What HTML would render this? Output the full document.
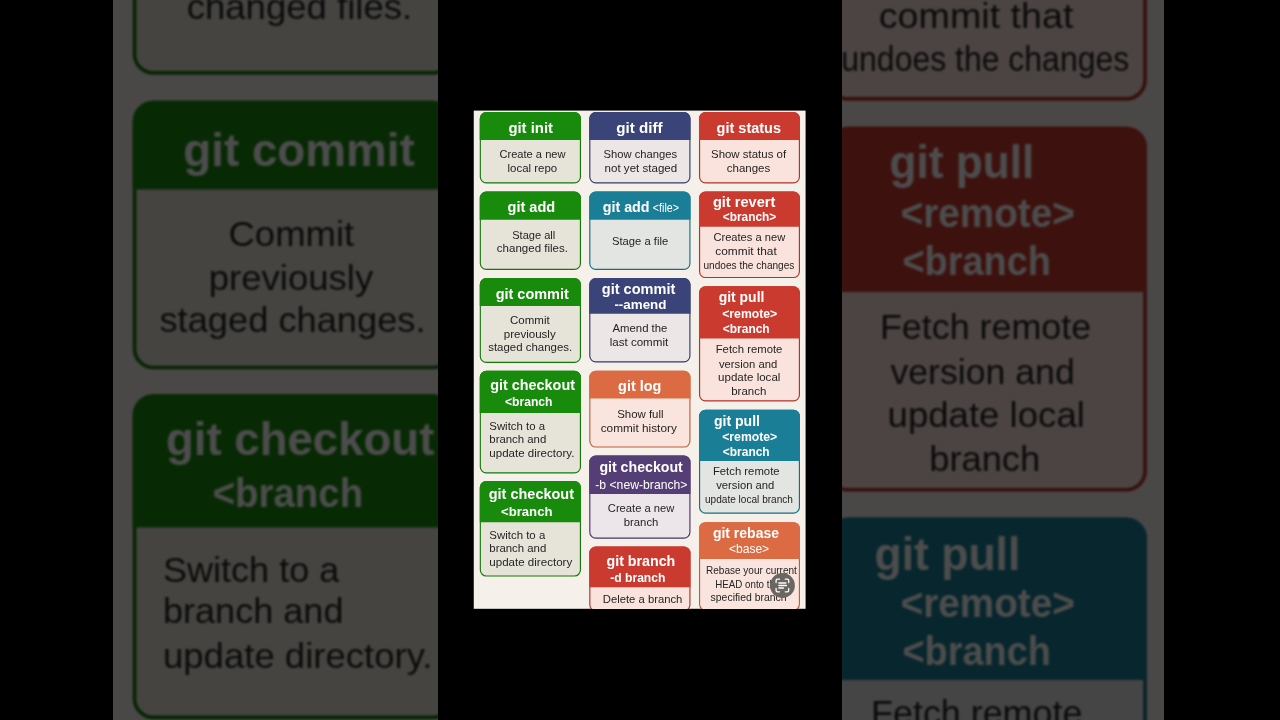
<!DOCTYPE html>
<html><head><meta charset="utf-8"><title>git cheatsheet</title>
<style>
html,body{margin:0;padding:0;background:#000;}
body{width:1280px;height:720px;overflow:hidden;position:relative;font-family:"Liberation Sans",sans-serif;}
svg{position:absolute;display:block;overflow:hidden;}
svg text{font-family:"Liberation Sans",sans-serif;white-space:pre;}
.bgwrap{position:absolute;left:113.4px;top:0;width:1050.7px;height:720px;overflow:hidden;}
.bg{left:-8.66px;top:-437.73px;filter:blur(0.9px) brightness(0.3);}
.strip{position:absolute;left:437.9px;top:0;width:404px;height:720px;background:#000;}
.fg{left:473.0px;top:110.0px;will-change:transform;}
</style></head><body>
<div class="bgwrap"><svg class="bg" width="1069.18" height="1595.53" viewBox="-3 -3 337.6 503.79999999999995"><rect x="-3" y="-3" width="337.6" height="503.79999999999995" fill="#f5f0e9"/><rect x="-0.25" y="-0.40" width="331.85" height="498.20" fill="#f5f0e9"/>
<rect x="6.33" y="1.67" width="100.10" height="70.25" rx="5.925" fill="#e6e3d9" stroke="#15790a" stroke-width="1.15"/>
<path d="M5.75 29.10V7.60A6.5 6.5 0 0 1 12.25 1.10H100.50A6.5 6.5 0 0 1 107.00 7.60V29.10Z" fill="#188a0c"/>
<text x="34.40" y="22.10" font-size="14.8" font-weight="700" fill="#fff" textLength="44.60" lengthAdjust="spacingAndGlyphs">git init</text>
<text x="25.40" y="47.40" font-size="11.2" font-weight="400" fill="#242424" textLength="66.16" lengthAdjust="spacingAndGlyphs">Create a new</text>
<text x="33.50" y="60.90" font-size="11.2" font-weight="400" fill="#242424" textLength="49.70" lengthAdjust="spacingAndGlyphs">local repo</text>
<rect x="6.33" y="81.17" width="100.10" height="77.15" rx="5.925" fill="#e6e3d9" stroke="#15790a" stroke-width="1.15"/>
<path d="M5.75 108.75V87.10A6.5 6.5 0 0 1 12.25 80.60H100.50A6.5 6.5 0 0 1 107.00 87.10V108.75Z" fill="#188a0c"/>
<text x="33.50" y="101.40" font-size="14.8" font-weight="700" fill="#fff" textLength="47.81" lengthAdjust="spacingAndGlyphs">git add</text>
<text x="38.20" y="127.75" font-size="11.2" font-weight="400" fill="#242424" textLength="43.10" lengthAdjust="spacingAndGlyphs">Stage all</text>
<text x="22.80" y="141.40" font-size="11.2" font-weight="400" fill="#242424" textLength="71.20" lengthAdjust="spacingAndGlyphs">changed files.</text>
<rect x="6.33" y="167.68" width="100.10" height="83.65" rx="5.925" fill="#e6e3d9" stroke="#15790a" stroke-width="1.15"/>
<path d="M5.75 195.10V173.60A6.5 6.5 0 0 1 12.25 167.10H100.50A6.5 6.5 0 0 1 107.00 173.60V195.10Z" fill="#188a0c"/>
<text x="21.70" y="187.75" font-size="14.8" font-weight="700" fill="#fff" textLength="73.10" lengthAdjust="spacingAndGlyphs">git commit</text>
<text x="36.00" y="213.00" font-size="11.2" font-weight="400" fill="#242424" textLength="39.70" lengthAdjust="spacingAndGlyphs">Commit</text>
<text x="29.75" y="226.75" font-size="11.2" font-weight="400" fill="#242424" textLength="51.95" lengthAdjust="spacingAndGlyphs">previously</text>
<text x="14.20" y="240.25" font-size="11.2" font-weight="400" fill="#242424" textLength="84.00" lengthAdjust="spacingAndGlyphs">staged changes.</text>
<rect x="6.33" y="260.38" width="100.10" height="101.45" rx="5.925" fill="#e6e3d9" stroke="#15790a" stroke-width="1.15"/>
<path d="M5.75 301.90V266.30A6.5 6.5 0 0 1 12.25 259.80H100.50A6.5 6.5 0 0 1 107.00 266.30V301.90Z" fill="#188a0c"/>
<text x="16.25" y="279.00" font-size="14.8" font-weight="700" fill="#fff" textLength="84.75" lengthAdjust="spacingAndGlyphs">git checkout</text>
<text x="31.00" y="295.50" font-size="13.0" font-weight="700" fill="#fff" textLength="47.50" lengthAdjust="spacingAndGlyphs">&lt;branch</text>
<text x="15.30" y="319.10" font-size="11.2" font-weight="400" fill="#242424" textLength="55.69" lengthAdjust="spacingAndGlyphs">Switch to a</text>
<text x="15.30" y="332.00" font-size="11.2" font-weight="400" fill="#242424" textLength="57.00" lengthAdjust="spacingAndGlyphs">branch and</text>
<text x="15.30" y="346.10" font-size="11.2" font-weight="400" fill="#242424" textLength="85.09" lengthAdjust="spacingAndGlyphs">update directory.</text>
<rect x="6.33" y="370.57" width="100.10" height="94.45" rx="5.925" fill="#e6e3d9" stroke="#15790a" stroke-width="1.15"/>
<path d="M5.75 411.20V376.50A6.5 6.5 0 0 1 12.25 370.00H100.50A6.5 6.5 0 0 1 107.00 376.50V411.20Z" fill="#188a0c"/>
<text x="14.75" y="388.30" font-size="14.8" font-weight="700" fill="#fff" textLength="85.25" lengthAdjust="spacingAndGlyphs">git checkout</text>
<text x="27.00" y="404.60" font-size="13.6" font-weight="700" fill="#fff" textLength="51.50" lengthAdjust="spacingAndGlyphs">&lt;branch</text>
<text x="15.30" y="428.10" font-size="11.2" font-weight="400" fill="#242424" textLength="55.99" lengthAdjust="spacingAndGlyphs">Switch to a</text>
<text x="15.30" y="440.80" font-size="11.2" font-weight="400" fill="#242424" textLength="57.00" lengthAdjust="spacingAndGlyphs">branch and</text>
<text x="15.30" y="454.70" font-size="11.2" font-weight="400" fill="#242424" textLength="82.90" lengthAdjust="spacingAndGlyphs">update directory</text>
<rect x="115.83" y="1.67" width="100.10" height="70.25" rx="5.925" fill="#ece7e6" stroke="#333b69" stroke-width="1.15"/>
<path d="M115.25 29.10V7.60A6.5 6.5 0 0 1 121.75 1.10H210.00A6.5 6.5 0 0 1 216.50 7.60V29.10Z" fill="#3a4478"/>
<text x="142.25" y="22.10" font-size="14.8" font-weight="700" fill="#fff" textLength="46.32" lengthAdjust="spacingAndGlyphs">git diff</text>
<text x="129.50" y="47.40" font-size="11.2" font-weight="400" fill="#242424" textLength="73.70" lengthAdjust="spacingAndGlyphs">Show changes</text>
<text x="130.60" y="60.90" font-size="11.2" font-weight="400" fill="#242424" textLength="72.60" lengthAdjust="spacingAndGlyphs">not yet staged</text>
<rect x="115.83" y="81.17" width="100.10" height="77.15" rx="5.925" fill="#e2e5e1" stroke="#166f84" stroke-width="1.15"/>
<path d="M115.25 108.75V87.10A6.5 6.5 0 0 1 121.75 80.60H210.00A6.5 6.5 0 0 1 216.50 87.10V108.75Z" fill="#1a7f96"/>
<text x="128.75" y="101.40" font-size="14.8" font-weight="700" fill="#fff" textLength="46.86" lengthAdjust="spacingAndGlyphs">git add</text>
<text x="178.80" y="101.40" font-size="12.2" font-weight="400" fill="#fff" textLength="26.20" lengthAdjust="spacingAndGlyphs">&lt;file&gt;</text>
<text x="138.00" y="133.75" font-size="11.2" font-weight="400" fill="#242424" textLength="56.20" lengthAdjust="spacingAndGlyphs">Stage a file</text>
<rect x="115.83" y="167.68" width="100.10" height="83.25" rx="5.925" fill="#ece7e6" stroke="#333b69" stroke-width="1.15"/>
<path d="M115.25 202.75V173.60A6.5 6.5 0 0 1 121.75 167.10H210.00A6.5 6.5 0 0 1 216.50 173.60V202.75Z" fill="#3a4478"/>
<text x="127.80" y="182.70" font-size="14.8" font-weight="700" fill="#fff" textLength="73.50" lengthAdjust="spacingAndGlyphs">git commit</text>
<text x="140.40" y="197.70" font-size="13.0" font-weight="700" fill="#fff" textLength="52.10" lengthAdjust="spacingAndGlyphs">--amend</text>
<text x="138.50" y="221.10" font-size="11.2" font-weight="400" fill="#242424" textLength="54.91" lengthAdjust="spacingAndGlyphs">Amend the</text>
<text x="135.70" y="234.60" font-size="11.2" font-weight="400" fill="#242424" textLength="58.50" lengthAdjust="spacingAndGlyphs">last commit</text>
<rect x="115.83" y="260.38" width="100.10" height="75.65" rx="5.925" fill="#fae5de" stroke="#c15d3a" stroke-width="1.15"/>
<path d="M115.25 287.40V266.30A6.5 6.5 0 0 1 121.75 259.80H210.00A6.5 6.5 0 0 1 216.50 266.30V287.40Z" fill="#dc6a42"/>
<text x="144.10" y="280.00" font-size="14.8" font-weight="700" fill="#fff" textLength="43.15" lengthAdjust="spacingAndGlyphs">git log</text>
<text x="143.20" y="307.10" font-size="11.2" font-weight="400" fill="#242424" textLength="46.30" lengthAdjust="spacingAndGlyphs">Show full</text>
<text x="126.70" y="320.80" font-size="11.2" font-weight="400" fill="#242424" textLength="76.10" lengthAdjust="spacingAndGlyphs">commit history</text>
<rect x="115.83" y="345.18" width="100.10" height="81.95" rx="5.925" fill="#ece6ea" stroke="#4a3566" stroke-width="1.15"/>
<path d="M115.25 383.10V351.10A6.5 6.5 0 0 1 121.75 344.60H210.00A6.5 6.5 0 0 1 216.50 351.10V383.10Z" fill="#553d75"/>
<text x="125.40" y="361.00" font-size="14.8" font-weight="700" fill="#fff" textLength="83.40" lengthAdjust="spacingAndGlyphs">git checkout</text>
<text x="121.25" y="378.10" font-size="12.6" font-weight="400" fill="#fff" textLength="92.25" lengthAdjust="spacingAndGlyphs">-b &lt;new-branch&gt;</text>
<text x="133.80" y="401.20" font-size="11.2" font-weight="400" fill="#242424" textLength="66.56" lengthAdjust="spacingAndGlyphs">Create a new</text>
<text x="149.75" y="414.80" font-size="11.2" font-weight="400" fill="#242424" textLength="34.65" lengthAdjust="spacingAndGlyphs">branch</text>
<rect x="115.83" y="436.18" width="100.10" height="63.45" rx="5.925" fill="#fae3dd" stroke="#b23329" stroke-width="1.15"/>
<path d="M115.25 476.25V442.10A6.5 6.5 0 0 1 121.75 435.60H210.00A6.5 6.5 0 0 1 216.50 442.10V476.25Z" fill="#cb3a2f"/>
<text x="132.50" y="454.70" font-size="14.8" font-weight="700" fill="#fff" textLength="68.79" lengthAdjust="spacingAndGlyphs">git branch</text>
<text x="136.25" y="471.20" font-size="13.0" font-weight="700" fill="#fff" textLength="55.15" lengthAdjust="spacingAndGlyphs">-d branch</text>
<text x="128.75" y="492.40" font-size="11.2" font-weight="400" fill="#242424" textLength="79.65" lengthAdjust="spacingAndGlyphs">Delete a branch</text>
<rect x="225.57" y="1.67" width="99.85" height="70.25" rx="5.925" fill="#fae3dd" stroke="#b23329" stroke-width="1.15"/>
<path d="M225.00 29.10V7.60A6.5 6.5 0 0 1 231.50 1.10H319.50A6.5 6.5 0 0 1 326.00 7.60V29.10Z" fill="#cb3a2f"/>
<text x="242.60" y="22.10" font-size="14.8" font-weight="700" fill="#fff" textLength="64.40" lengthAdjust="spacingAndGlyphs">git status</text>
<text x="237.00" y="47.40" font-size="11.2" font-weight="400" fill="#242424" textLength="75.18" lengthAdjust="spacingAndGlyphs">Show status of</text>
<text x="252.75" y="60.90" font-size="11.2" font-weight="400" fill="#242424" textLength="43.50" lengthAdjust="spacingAndGlyphs">changes</text>
<rect x="225.57" y="81.17" width="99.85" height="85.35" rx="5.925" fill="#fae3dd" stroke="#b23329" stroke-width="1.15"/>
<path d="M225.00 115.70V87.10A6.5 6.5 0 0 1 231.50 80.60H319.50A6.5 6.5 0 0 1 326.00 87.10V115.70Z" fill="#cb3a2f"/>
<text x="238.90" y="96.20" font-size="14.8" font-weight="700" fill="#fff" textLength="62.40" lengthAdjust="spacingAndGlyphs">git revert</text>
<text x="248.80" y="110.25" font-size="12.8" font-weight="700" fill="#fff" textLength="53.45" lengthAdjust="spacingAndGlyphs">&lt;branch&gt;</text>
<text x="239.40" y="130.20" font-size="11.2" font-weight="400" fill="#242424" textLength="71.81" lengthAdjust="spacingAndGlyphs">Creates a new</text>
<text x="241.30" y="144.25" font-size="11.2" font-weight="400" fill="#242424" textLength="61.50" lengthAdjust="spacingAndGlyphs">commit that</text>
<text x="229.50" y="157.75" font-size="11.2" font-weight="400" fill="#242424" textLength="90.90" lengthAdjust="spacingAndGlyphs">undoes the changes</text>
<rect x="225.57" y="175.88" width="99.85" height="114.05" rx="5.925" fill="#fae3dd" stroke="#b23329" stroke-width="1.15"/>
<path d="M225.00 227.50V181.80A6.5 6.5 0 0 1 231.50 175.30H319.50A6.5 6.5 0 0 1 326.00 181.80V227.50Z" fill="#cb3a2f"/>
<text x="244.70" y="191.50" font-size="14.8" font-weight="700" fill="#fff" textLength="45.70" lengthAdjust="spacingAndGlyphs">git pull</text>
<text x="248.25" y="207.00" font-size="12.8" font-weight="700" fill="#fff" textLength="54.96" lengthAdjust="spacingAndGlyphs">&lt;remote&gt;</text>
<text x="248.80" y="222.00" font-size="12.8" font-weight="700" fill="#fff" textLength="46.90" lengthAdjust="spacingAndGlyphs">&lt;branch</text>
<text x="241.70" y="242.50" font-size="11.2" font-weight="400" fill="#242424" textLength="66.70" lengthAdjust="spacingAndGlyphs">Fetch remote</text>
<text x="245.00" y="256.60" font-size="11.2" font-weight="400" fill="#242424" textLength="58.20" lengthAdjust="spacingAndGlyphs">version and</text>
<text x="244.10" y="270.25" font-size="11.2" font-weight="400" fill="#242424" textLength="62.30" lengthAdjust="spacingAndGlyphs">update local</text>
<text x="257.25" y="284.00" font-size="11.2" font-weight="400" fill="#242424" textLength="35.05" lengthAdjust="spacingAndGlyphs">branch</text>
<rect x="225.57" y="299.32" width="99.85" height="102.85" rx="5.925" fill="#e2e5e1" stroke="#166f84" stroke-width="1.15"/>
<path d="M225.00 350.00V305.25A6.5 6.5 0 0 1 231.50 298.75H319.50A6.5 6.5 0 0 1 326.00 305.25V350.00Z" fill="#1a7f96"/>
<text x="240.00" y="315.25" font-size="14.8" font-weight="700" fill="#fff" textLength="46.00" lengthAdjust="spacingAndGlyphs">git pull</text>
<text x="248.25" y="330.25" font-size="12.8" font-weight="700" fill="#fff" textLength="54.96" lengthAdjust="spacingAndGlyphs">&lt;remote&gt;</text>
<text x="248.80" y="345.25" font-size="12.8" font-weight="700" fill="#fff" textLength="46.90" lengthAdjust="spacingAndGlyphs">&lt;branch</text>
<text x="238.90" y="364.10" font-size="11.2" font-weight="400" fill="#242424" textLength="66.70" lengthAdjust="spacingAndGlyphs">Fetch remote</text>
<text x="242.25" y="377.80" font-size="11.2" font-weight="400" fill="#242424" textLength="58.15" lengthAdjust="spacingAndGlyphs">version and</text>
<text x="231.00" y="391.90" font-size="11.2" font-weight="400" fill="#242424" textLength="88.00" lengthAdjust="spacingAndGlyphs">update local branch</text>
<rect x="225.57" y="411.78" width="99.85" height="87.45" rx="5.925" fill="#fae5de" stroke="#c15d3a" stroke-width="1.15"/>
<path d="M225.00 448.10V417.70A6.5 6.5 0 0 1 231.50 411.20H319.50A6.5 6.5 0 0 1 326.00 417.70V448.10Z" fill="#dc6a42"/>
<text x="238.90" y="427.10" font-size="14.8" font-weight="700" fill="#fff" textLength="66.10" lengthAdjust="spacingAndGlyphs">git rebase</text>
<text x="255.00" y="441.75" font-size="12.6" font-weight="400" fill="#fff" textLength="40.11" lengthAdjust="spacingAndGlyphs">&lt;base&gt;</text>
<text x="232.00" y="462.75" font-size="11.2" font-weight="400" fill="#242424" textLength="90.90" lengthAdjust="spacingAndGlyphs">Rebase your current</text>
<text x="241.30" y="476.80" font-size="11.2" font-weight="400" fill="#242424" textLength="65.01" lengthAdjust="spacingAndGlyphs">HEAD onto the</text>
<text x="236.60" y="490.00" font-size="11.2" font-weight="400" fill="#242424" textLength="76.00" lengthAdjust="spacingAndGlyphs">specified branch</text>
<g transform="translate(295.90 462.00)"><circle cx="12.5" cy="12.5" r="12.5" fill="#6b6661"/><g fill="none" stroke="#fff" stroke-width="1.3" stroke-linecap="round" stroke-linejoin="round"><path d="M6.2 9.6V7.6a1.4 1.4 0 0 1 1.4-1.4h2M15.4 6.2h2a1.4 1.4 0 0 1 1.4 1.4v2M18.8 15.4v2a1.4 1.4 0 0 1-1.4 1.4h-2M9.6 18.8h-2a1.4 1.4 0 0 1-1.4-1.4v-2"/><path d="M9 10h7M9 12.5h7.5M9 15h4.5"/></g></g></svg></div>
<div class="strip"></div>
<svg class="fg" width="332.60" height="498.80" viewBox="-1 -1 332.60 498.80"><rect x="-0.25" y="-0.40" width="331.85" height="498.20" fill="#f5f0e9"/>
<rect x="6.33" y="1.67" width="100.10" height="70.25" rx="5.925" fill="#e6e3d9" stroke="#15790a" stroke-width="1.15"/>
<path d="M5.75 29.10V7.60A6.5 6.5 0 0 1 12.25 1.10H100.50A6.5 6.5 0 0 1 107.00 7.60V29.10Z" fill="#188a0c"/>
<text x="34.40" y="22.10" font-size="14.8" font-weight="700" fill="#fff" textLength="44.60" lengthAdjust="spacingAndGlyphs">git init</text>
<text x="25.40" y="47.40" font-size="11.2" font-weight="400" fill="#242424" textLength="66.16" lengthAdjust="spacingAndGlyphs">Create a new</text>
<text x="33.50" y="60.90" font-size="11.2" font-weight="400" fill="#242424" textLength="49.70" lengthAdjust="spacingAndGlyphs">local repo</text>
<rect x="6.33" y="81.17" width="100.10" height="77.15" rx="5.925" fill="#e6e3d9" stroke="#15790a" stroke-width="1.15"/>
<path d="M5.75 108.75V87.10A6.5 6.5 0 0 1 12.25 80.60H100.50A6.5 6.5 0 0 1 107.00 87.10V108.75Z" fill="#188a0c"/>
<text x="33.50" y="101.40" font-size="14.8" font-weight="700" fill="#fff" textLength="47.81" lengthAdjust="spacingAndGlyphs">git add</text>
<text x="38.20" y="127.75" font-size="11.2" font-weight="400" fill="#242424" textLength="43.10" lengthAdjust="spacingAndGlyphs">Stage all</text>
<text x="22.80" y="141.40" font-size="11.2" font-weight="400" fill="#242424" textLength="71.20" lengthAdjust="spacingAndGlyphs">changed files.</text>
<rect x="6.33" y="167.68" width="100.10" height="83.65" rx="5.925" fill="#e6e3d9" stroke="#15790a" stroke-width="1.15"/>
<path d="M5.75 195.10V173.60A6.5 6.5 0 0 1 12.25 167.10H100.50A6.5 6.5 0 0 1 107.00 173.60V195.10Z" fill="#188a0c"/>
<text x="21.70" y="187.75" font-size="14.8" font-weight="700" fill="#fff" textLength="73.10" lengthAdjust="spacingAndGlyphs">git commit</text>
<text x="36.00" y="213.00" font-size="11.2" font-weight="400" fill="#242424" textLength="39.70" lengthAdjust="spacingAndGlyphs">Commit</text>
<text x="29.75" y="226.75" font-size="11.2" font-weight="400" fill="#242424" textLength="51.95" lengthAdjust="spacingAndGlyphs">previously</text>
<text x="14.20" y="240.25" font-size="11.2" font-weight="400" fill="#242424" textLength="84.00" lengthAdjust="spacingAndGlyphs">staged changes.</text>
<rect x="6.33" y="260.38" width="100.10" height="101.45" rx="5.925" fill="#e6e3d9" stroke="#15790a" stroke-width="1.15"/>
<path d="M5.75 301.90V266.30A6.5 6.5 0 0 1 12.25 259.80H100.50A6.5 6.5 0 0 1 107.00 266.30V301.90Z" fill="#188a0c"/>
<text x="16.25" y="279.00" font-size="14.8" font-weight="700" fill="#fff" textLength="84.75" lengthAdjust="spacingAndGlyphs">git checkout</text>
<text x="31.00" y="295.50" font-size="13.0" font-weight="700" fill="#fff" textLength="47.50" lengthAdjust="spacingAndGlyphs">&lt;branch</text>
<text x="15.30" y="319.10" font-size="11.2" font-weight="400" fill="#242424" textLength="55.69" lengthAdjust="spacingAndGlyphs">Switch to a</text>
<text x="15.30" y="332.00" font-size="11.2" font-weight="400" fill="#242424" textLength="57.00" lengthAdjust="spacingAndGlyphs">branch and</text>
<text x="15.30" y="346.10" font-size="11.2" font-weight="400" fill="#242424" textLength="85.09" lengthAdjust="spacingAndGlyphs">update directory.</text>
<rect x="6.33" y="370.57" width="100.10" height="94.45" rx="5.925" fill="#e6e3d9" stroke="#15790a" stroke-width="1.15"/>
<path d="M5.75 411.20V376.50A6.5 6.5 0 0 1 12.25 370.00H100.50A6.5 6.5 0 0 1 107.00 376.50V411.20Z" fill="#188a0c"/>
<text x="14.75" y="388.30" font-size="14.8" font-weight="700" fill="#fff" textLength="85.25" lengthAdjust="spacingAndGlyphs">git checkout</text>
<text x="27.00" y="404.60" font-size="13.6" font-weight="700" fill="#fff" textLength="51.50" lengthAdjust="spacingAndGlyphs">&lt;branch</text>
<text x="15.30" y="428.10" font-size="11.2" font-weight="400" fill="#242424" textLength="55.99" lengthAdjust="spacingAndGlyphs">Switch to a</text>
<text x="15.30" y="440.80" font-size="11.2" font-weight="400" fill="#242424" textLength="57.00" lengthAdjust="spacingAndGlyphs">branch and</text>
<text x="15.30" y="454.70" font-size="11.2" font-weight="400" fill="#242424" textLength="82.90" lengthAdjust="spacingAndGlyphs">update directory</text>
<rect x="115.83" y="1.67" width="100.10" height="70.25" rx="5.925" fill="#ece7e6" stroke="#333b69" stroke-width="1.15"/>
<path d="M115.25 29.10V7.60A6.5 6.5 0 0 1 121.75 1.10H210.00A6.5 6.5 0 0 1 216.50 7.60V29.10Z" fill="#3a4478"/>
<text x="142.25" y="22.10" font-size="14.8" font-weight="700" fill="#fff" textLength="46.32" lengthAdjust="spacingAndGlyphs">git diff</text>
<text x="129.50" y="47.40" font-size="11.2" font-weight="400" fill="#242424" textLength="73.70" lengthAdjust="spacingAndGlyphs">Show changes</text>
<text x="130.60" y="60.90" font-size="11.2" font-weight="400" fill="#242424" textLength="72.60" lengthAdjust="spacingAndGlyphs">not yet staged</text>
<rect x="115.83" y="81.17" width="100.10" height="77.15" rx="5.925" fill="#e2e5e1" stroke="#166f84" stroke-width="1.15"/>
<path d="M115.25 108.75V87.10A6.5 6.5 0 0 1 121.75 80.60H210.00A6.5 6.5 0 0 1 216.50 87.10V108.75Z" fill="#1a7f96"/>
<text x="128.75" y="101.40" font-size="14.8" font-weight="700" fill="#fff" textLength="46.86" lengthAdjust="spacingAndGlyphs">git add</text>
<text x="178.80" y="101.40" font-size="12.2" font-weight="400" fill="#fff" textLength="26.20" lengthAdjust="spacingAndGlyphs">&lt;file&gt;</text>
<text x="138.00" y="133.75" font-size="11.2" font-weight="400" fill="#242424" textLength="56.20" lengthAdjust="spacingAndGlyphs">Stage a file</text>
<rect x="115.83" y="167.68" width="100.10" height="83.25" rx="5.925" fill="#ece7e6" stroke="#333b69" stroke-width="1.15"/>
<path d="M115.25 202.75V173.60A6.5 6.5 0 0 1 121.75 167.10H210.00A6.5 6.5 0 0 1 216.50 173.60V202.75Z" fill="#3a4478"/>
<text x="127.80" y="182.70" font-size="14.8" font-weight="700" fill="#fff" textLength="73.50" lengthAdjust="spacingAndGlyphs">git commit</text>
<text x="140.40" y="197.70" font-size="13.0" font-weight="700" fill="#fff" textLength="52.10" lengthAdjust="spacingAndGlyphs">--amend</text>
<text x="138.50" y="221.10" font-size="11.2" font-weight="400" fill="#242424" textLength="54.91" lengthAdjust="spacingAndGlyphs">Amend the</text>
<text x="135.70" y="234.60" font-size="11.2" font-weight="400" fill="#242424" textLength="58.50" lengthAdjust="spacingAndGlyphs">last commit</text>
<rect x="115.83" y="260.38" width="100.10" height="75.65" rx="5.925" fill="#fae5de" stroke="#c15d3a" stroke-width="1.15"/>
<path d="M115.25 287.40V266.30A6.5 6.5 0 0 1 121.75 259.80H210.00A6.5 6.5 0 0 1 216.50 266.30V287.40Z" fill="#dc6a42"/>
<text x="144.10" y="280.00" font-size="14.8" font-weight="700" fill="#fff" textLength="43.15" lengthAdjust="spacingAndGlyphs">git log</text>
<text x="143.20" y="307.10" font-size="11.2" font-weight="400" fill="#242424" textLength="46.30" lengthAdjust="spacingAndGlyphs">Show full</text>
<text x="126.70" y="320.80" font-size="11.2" font-weight="400" fill="#242424" textLength="76.10" lengthAdjust="spacingAndGlyphs">commit history</text>
<rect x="115.83" y="345.18" width="100.10" height="81.95" rx="5.925" fill="#ece6ea" stroke="#4a3566" stroke-width="1.15"/>
<path d="M115.25 383.10V351.10A6.5 6.5 0 0 1 121.75 344.60H210.00A6.5 6.5 0 0 1 216.50 351.10V383.10Z" fill="#553d75"/>
<text x="125.40" y="361.00" font-size="14.8" font-weight="700" fill="#fff" textLength="83.40" lengthAdjust="spacingAndGlyphs">git checkout</text>
<text x="121.25" y="378.10" font-size="12.6" font-weight="400" fill="#fff" textLength="92.25" lengthAdjust="spacingAndGlyphs">-b &lt;new-branch&gt;</text>
<text x="133.80" y="401.20" font-size="11.2" font-weight="400" fill="#242424" textLength="66.56" lengthAdjust="spacingAndGlyphs">Create a new</text>
<text x="149.75" y="414.80" font-size="11.2" font-weight="400" fill="#242424" textLength="34.65" lengthAdjust="spacingAndGlyphs">branch</text>
<rect x="115.83" y="436.18" width="100.10" height="63.45" rx="5.925" fill="#fae3dd" stroke="#b23329" stroke-width="1.15"/>
<path d="M115.25 476.25V442.10A6.5 6.5 0 0 1 121.75 435.60H210.00A6.5 6.5 0 0 1 216.50 442.10V476.25Z" fill="#cb3a2f"/>
<text x="132.50" y="454.70" font-size="14.8" font-weight="700" fill="#fff" textLength="68.79" lengthAdjust="spacingAndGlyphs">git branch</text>
<text x="136.25" y="471.20" font-size="13.0" font-weight="700" fill="#fff" textLength="55.15" lengthAdjust="spacingAndGlyphs">-d branch</text>
<text x="128.75" y="492.40" font-size="11.2" font-weight="400" fill="#242424" textLength="79.65" lengthAdjust="spacingAndGlyphs">Delete a branch</text>
<rect x="225.57" y="1.67" width="99.85" height="70.25" rx="5.925" fill="#fae3dd" stroke="#b23329" stroke-width="1.15"/>
<path d="M225.00 29.10V7.60A6.5 6.5 0 0 1 231.50 1.10H319.50A6.5 6.5 0 0 1 326.00 7.60V29.10Z" fill="#cb3a2f"/>
<text x="242.60" y="22.10" font-size="14.8" font-weight="700" fill="#fff" textLength="64.40" lengthAdjust="spacingAndGlyphs">git status</text>
<text x="237.00" y="47.40" font-size="11.2" font-weight="400" fill="#242424" textLength="75.18" lengthAdjust="spacingAndGlyphs">Show status of</text>
<text x="252.75" y="60.90" font-size="11.2" font-weight="400" fill="#242424" textLength="43.50" lengthAdjust="spacingAndGlyphs">changes</text>
<rect x="225.57" y="81.17" width="99.85" height="85.35" rx="5.925" fill="#fae3dd" stroke="#b23329" stroke-width="1.15"/>
<path d="M225.00 115.70V87.10A6.5 6.5 0 0 1 231.50 80.60H319.50A6.5 6.5 0 0 1 326.00 87.10V115.70Z" fill="#cb3a2f"/>
<text x="238.90" y="96.20" font-size="14.8" font-weight="700" fill="#fff" textLength="62.40" lengthAdjust="spacingAndGlyphs">git revert</text>
<text x="248.80" y="110.25" font-size="12.8" font-weight="700" fill="#fff" textLength="53.45" lengthAdjust="spacingAndGlyphs">&lt;branch&gt;</text>
<text x="239.40" y="130.20" font-size="11.2" font-weight="400" fill="#242424" textLength="71.81" lengthAdjust="spacingAndGlyphs">Creates a new</text>
<text x="241.30" y="144.25" font-size="11.2" font-weight="400" fill="#242424" textLength="61.50" lengthAdjust="spacingAndGlyphs">commit that</text>
<text x="229.50" y="157.75" font-size="11.2" font-weight="400" fill="#242424" textLength="90.90" lengthAdjust="spacingAndGlyphs">undoes the changes</text>
<rect x="225.57" y="175.88" width="99.85" height="114.05" rx="5.925" fill="#fae3dd" stroke="#b23329" stroke-width="1.15"/>
<path d="M225.00 227.50V181.80A6.5 6.5 0 0 1 231.50 175.30H319.50A6.5 6.5 0 0 1 326.00 181.80V227.50Z" fill="#cb3a2f"/>
<text x="244.70" y="191.50" font-size="14.8" font-weight="700" fill="#fff" textLength="45.70" lengthAdjust="spacingAndGlyphs">git pull</text>
<text x="248.25" y="207.00" font-size="12.8" font-weight="700" fill="#fff" textLength="54.96" lengthAdjust="spacingAndGlyphs">&lt;remote&gt;</text>
<text x="248.80" y="222.00" font-size="12.8" font-weight="700" fill="#fff" textLength="46.90" lengthAdjust="spacingAndGlyphs">&lt;branch</text>
<text x="241.70" y="242.50" font-size="11.2" font-weight="400" fill="#242424" textLength="66.70" lengthAdjust="spacingAndGlyphs">Fetch remote</text>
<text x="245.00" y="256.60" font-size="11.2" font-weight="400" fill="#242424" textLength="58.20" lengthAdjust="spacingAndGlyphs">version and</text>
<text x="244.10" y="270.25" font-size="11.2" font-weight="400" fill="#242424" textLength="62.30" lengthAdjust="spacingAndGlyphs">update local</text>
<text x="257.25" y="284.00" font-size="11.2" font-weight="400" fill="#242424" textLength="35.05" lengthAdjust="spacingAndGlyphs">branch</text>
<rect x="225.57" y="299.32" width="99.85" height="102.85" rx="5.925" fill="#e2e5e1" stroke="#166f84" stroke-width="1.15"/>
<path d="M225.00 350.00V305.25A6.5 6.5 0 0 1 231.50 298.75H319.50A6.5 6.5 0 0 1 326.00 305.25V350.00Z" fill="#1a7f96"/>
<text x="240.00" y="315.25" font-size="14.8" font-weight="700" fill="#fff" textLength="46.00" lengthAdjust="spacingAndGlyphs">git pull</text>
<text x="248.25" y="330.25" font-size="12.8" font-weight="700" fill="#fff" textLength="54.96" lengthAdjust="spacingAndGlyphs">&lt;remote&gt;</text>
<text x="248.80" y="345.25" font-size="12.8" font-weight="700" fill="#fff" textLength="46.90" lengthAdjust="spacingAndGlyphs">&lt;branch</text>
<text x="238.90" y="364.10" font-size="11.2" font-weight="400" fill="#242424" textLength="66.70" lengthAdjust="spacingAndGlyphs">Fetch remote</text>
<text x="242.25" y="377.80" font-size="11.2" font-weight="400" fill="#242424" textLength="58.15" lengthAdjust="spacingAndGlyphs">version and</text>
<text x="231.00" y="391.90" font-size="11.2" font-weight="400" fill="#242424" textLength="88.00" lengthAdjust="spacingAndGlyphs">update local branch</text>
<rect x="225.57" y="411.78" width="99.85" height="87.45" rx="5.925" fill="#fae5de" stroke="#c15d3a" stroke-width="1.15"/>
<path d="M225.00 448.10V417.70A6.5 6.5 0 0 1 231.50 411.20H319.50A6.5 6.5 0 0 1 326.00 417.70V448.10Z" fill="#dc6a42"/>
<text x="238.90" y="427.10" font-size="14.8" font-weight="700" fill="#fff" textLength="66.10" lengthAdjust="spacingAndGlyphs">git rebase</text>
<text x="255.00" y="441.75" font-size="12.6" font-weight="400" fill="#fff" textLength="40.11" lengthAdjust="spacingAndGlyphs">&lt;base&gt;</text>
<text x="232.00" y="462.75" font-size="11.2" font-weight="400" fill="#242424" textLength="90.90" lengthAdjust="spacingAndGlyphs">Rebase your current</text>
<text x="241.30" y="476.80" font-size="11.2" font-weight="400" fill="#242424" textLength="65.01" lengthAdjust="spacingAndGlyphs">HEAD onto the</text>
<text x="236.60" y="490.00" font-size="11.2" font-weight="400" fill="#242424" textLength="76.00" lengthAdjust="spacingAndGlyphs">specified branch</text>
<g transform="translate(295.90 462.00)"><circle cx="12.5" cy="12.5" r="12.5" fill="#6b6661"/><g fill="none" stroke="#fff" stroke-width="1.3" stroke-linecap="round" stroke-linejoin="round"><path d="M6.2 9.6V7.6a1.4 1.4 0 0 1 1.4-1.4h2M15.4 6.2h2a1.4 1.4 0 0 1 1.4 1.4v2M18.8 15.4v2a1.4 1.4 0 0 1-1.4 1.4h-2M9.6 18.8h-2a1.4 1.4 0 0 1-1.4-1.4v-2"/><path d="M9 10h7M9 12.5h7.5M9 15h4.5"/></g></g></svg>
</body></html>
